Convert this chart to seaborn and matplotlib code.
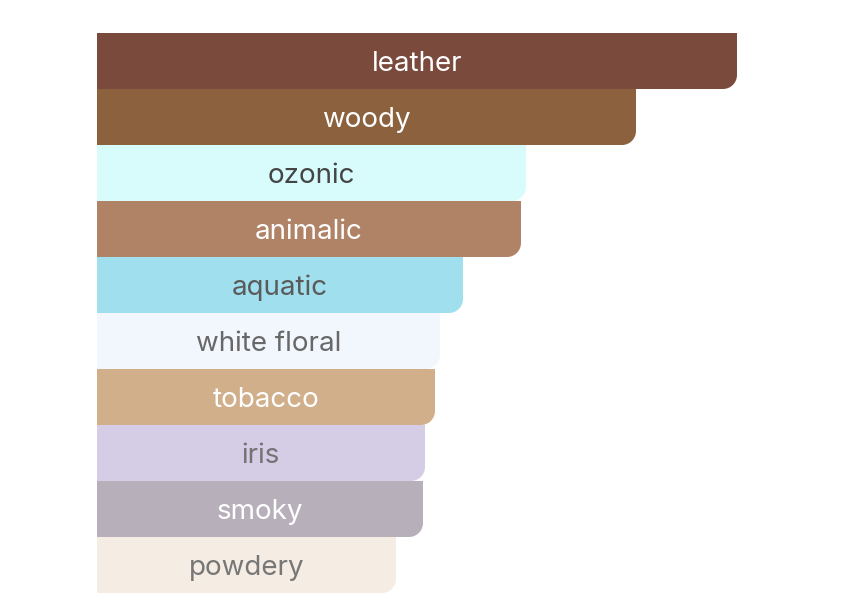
import matplotlib
matplotlib.use("Agg")
import matplotlib.pyplot as plt
import seaborn as sns
from matplotlib.path import Path
from matplotlib.patches import PathPatch

# --------------------------
# Data
# --------------------------
notes = ["leather", "woody", "ozonic", "animalic", "aquatic",
         "white floral", "tobacco", "iris", "smoky", "powdery"]
scores = [64.0, 53.9, 42.9, 42.4, 36.6, 34.3, 33.8, 32.8, 32.6, 29.9]
bar_colors = ["#7a4a3c", "#8b613e", "#d8fcfc", "#b08366", "#a0dfed",
              "#f2f6fd", "#d1af8a", "#d5cce6", "#b7afba", "#f5ede3"]
text_colors = ["white", "white", "#454545", "white", "#5a5a5a",
               "#686868", "white", "#737373", "white", "#777777"]

sns.set_style("white")
plt.rcParams['font.family'] = ['Inter', 'DejaVu Sans']

fig = plt.figure(figsize=(8.44, 6.16), dpi=100)
ax = fig.add_axes([97 / 844, 23 / 616, 640 / 844, 560 / 616])

sns.barplot(x=scores, y=notes, hue=notes, palette=bar_colors,
            width=1.0, legend=False, ax=ax, saturation=1)

ax.set_xlim(0, max(scores))
ax.set_ylim(len(notes) - 0.5, -0.5)
ax.axis("off")

# --------------------------
# Rounded bottom-right corners
# --------------------------
radius_px = 14
rx = radius_px * max(scores) / 640
ry = radius_px * len(notes) / 560
k = 0.5523
for patch in list(ax.patches):
    x0, y0 = patch.get_x(), patch.get_y()
    x1, y1 = x0 + patch.get_width(), y0 + patch.get_height()
    color = patch.get_facecolor()
    patch.set_visible(False)
    verts = [(x0, y0), (x1, y0), (x1, y1 - ry),
             (x1, y1 - ry * (1 - k)), (x1 - rx * (1 - k), y1), (x1 - rx, y1),
             (x0, y1), (x0, y0)]
    codes = [Path.MOVETO, Path.LINETO, Path.LINETO,
             Path.CURVE4, Path.CURVE4, Path.CURVE4,
             Path.LINETO, Path.CLOSEPOLY]
    ax.add_patch(PathPatch(Path(verts, codes), facecolor=color,
                           edgecolor="none", linewidth=0))

# --------------------------
# Labels inside bars
# --------------------------
for i, (name, val) in enumerate(zip(notes, scores)):
    ax.text(val / 2, i + 0.055, name, ha="center", va="center",
            fontsize=20, color=text_colors[i])

fig.savefig("out.png", dpi=100)
